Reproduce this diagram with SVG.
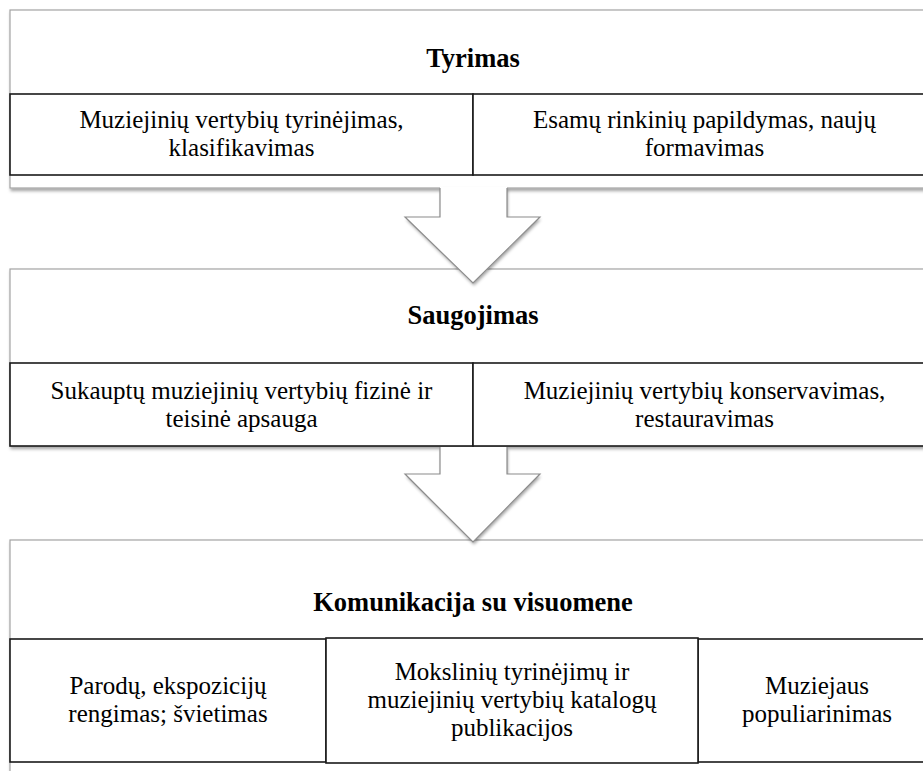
<svg xmlns="http://www.w3.org/2000/svg" width="923" height="771" viewBox="0 0 923 771">
<style>
.outer{fill:#fff;stroke:#a3a3a3;stroke-width:1.2}
.cell{fill:#fff;stroke:#1a1a1a;stroke-width:1.6}
text{font-family:'Liberation Serif','Times New Roman',serif;font-size:25px;text-anchor:middle;fill:#000}
.h{font-weight:bold;font-size:26.5px}
.afill{fill:#fff;stroke:none}
.aline{fill:none;stroke:#8c8c8c;stroke-width:1.2;stroke-linejoin:miter}
</style>
<defs>
<filter id="sh" x="-5%" y="-5%" width="110%" height="120%">
<feDropShadow dx="1" dy="2.5" stdDeviation="1.6" flood-color="#000" flood-opacity="0.35"/>
</filter>
</defs>
<rect width="923" height="771" fill="#fff"/>

<g id="tyrimas">
<rect class="outer" x="10" y="10" width="926" height="178" filter="url(#sh)"/>
<text class="h" x="473" y="67">Tyrimas</text>
<rect class="cell" x="10" y="94" width="463" height="81"/>
<rect class="cell" x="473" y="94" width="463" height="81"/>
<text x="241.5" y="128">Muziejinių vertybių tyrinėjimas,<tspan x="241.5" dy="28">klasifikavimas</tspan></text>
<text x="704.5" y="128">Esamų rinkinių papildymas, naujų<tspan x="704.5" dy="28">formavimas</tspan></text>
</g>

<g id="saugojimas">
<rect class="outer" x="10" y="269" width="926" height="177" filter="url(#sh)"/>
<text class="h" x="473" y="324">Saugojimas</text>
<rect class="cell" x="10" y="363" width="463" height="83"/>
<rect class="cell" x="473" y="363" width="463" height="83"/>
<text x="241.5" y="399">Sukauptų muziejinių vertybių fizinė ir<tspan x="241.5" dy="28">teisinė apsauga</tspan></text>
<text x="704.5" y="399">Muziejinių vertybių konservavimas,<tspan x="704.5" dy="28">restauravimas</tspan></text>
</g>

<g id="komunikacija">
<rect class="outer" x="10" y="540" width="926" height="260" filter="url(#sh)"/>
<text class="h" x="473" y="611">Komunikacija su visuomene</text>
<rect class="cell" x="10" y="639" width="316" height="123"/>
<rect class="cell" x="698" y="639" width="238" height="123"/>
<rect class="cell" x="326" y="638" width="372" height="125"/>
<text x="168" y="694">Parodų, ekspozicijų<tspan x="168" dy="28">rengimas; švietimas</tspan></text>
<text x="512" y="680">Mokslinių tyrinėjimų ir<tspan x="512" dy="28">muziejinių vertybių katalogų</tspan><tspan x="512" dy="28">publikacijos</tspan></text>
<text x="817" y="694">Muziejaus<tspan x="817" dy="28">populiarinimas</tspan></text>
</g>

<g id="connectors">
<g id="arrow1">
<polygon class="afill" points="440,187 507,187 507,217 540,217 473,283 405,217 440,217" filter="url(#sh)"/>
<polyline class="aline" points="440,188 440,217 405,217 473,283 540,217 507,217 507,188"/>
</g>
<g id="arrow2">
<polygon class="afill" points="440,447 507,447 507,474 540,474 473,542 405,474 440,474" filter="url(#sh)"/>
<polyline class="aline" points="440,447 440,474 405,474 473,542 540,474 507,474 507,447"/>
</g>
</g>
</svg>
